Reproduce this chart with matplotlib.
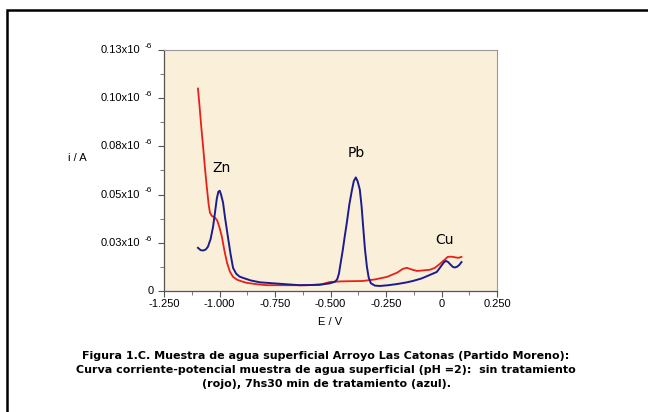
import matplotlib
matplotlib.use("Agg")
import matplotlib.pyplot as plt
from matplotlib.patches import Rectangle
from matplotlib.ticker import MultipleLocator

# data (current in units of 1e-6 A)
red_E = [-1.097, -1.090, -1.082, -1.074, -1.065, -1.056, -1.049, -1.043, -1.035, -1.020,
         -1.010, -1.000, -0.989, -0.978, -0.966, -0.953, -0.939, -0.920, -0.900, -0.876,
         -0.830, -0.786, -0.70, -0.60, -0.540, -0.502, -0.45, -0.354, -0.30, -0.246,
         -0.20, -0.174, -0.156, -0.130, -0.11, -0.080, -0.053, -0.030, -0.008, 0.010,
         0.028, 0.045, 0.06, 0.075, 0.09]
red_i = [0.105, 0.096, 0.085, 0.075, 0.063, 0.0526, 0.045, 0.0406, 0.039, 0.038,
         0.0365, 0.033, 0.028, 0.021, 0.0146, 0.010, 0.0073, 0.0058, 0.005, 0.0042,
         0.0035, 0.003, 0.003, 0.003, 0.0035, 0.0047, 0.005, 0.0052, 0.006, 0.0073,
         0.0095, 0.0115, 0.012, 0.011, 0.0104, 0.0107, 0.011, 0.012, 0.014, 0.0158,
         0.0177, 0.0178, 0.0175, 0.0172, 0.0177]

blue_E = [-1.097, -1.085, -1.074, -1.062, -1.052, -1.040, -1.029, -1.020, -1.012, -1.005,
          -0.999, -0.993, -0.984, -0.975, -0.962, -0.950, -0.939, -0.925, -0.910, -0.894,
          -0.860, -0.818, -0.70, -0.638, -0.55, -0.502, -0.480, -0.470, -0.462, -0.455,
          -0.445, -0.435, -0.427, -0.415, -0.403, -0.395, -0.386, -0.378, -0.368, -0.360,
          -0.354, -0.345, -0.336, -0.328, -0.318, -0.300, -0.278, -0.240, -0.201, -0.160,
          -0.129, -0.090, -0.053, -0.021, 0.002, 0.012, 0.020, 0.030, 0.038, 0.051,
          0.060, 0.069, 0.080, 0.09]
blue_i = [0.0224, 0.0212, 0.021, 0.0215, 0.023, 0.027, 0.0333, 0.041, 0.048, 0.0515,
          0.052, 0.050, 0.0458, 0.038, 0.028, 0.019, 0.012, 0.009, 0.0075, 0.0068,
          0.0055, 0.0045, 0.0035, 0.003, 0.0032, 0.004, 0.0048, 0.006, 0.009, 0.014,
          0.021, 0.029, 0.035, 0.045, 0.0526, 0.057, 0.0589, 0.057, 0.0526, 0.044,
          0.035, 0.022, 0.0125, 0.007, 0.004, 0.0028, 0.0026, 0.003, 0.0036, 0.0044,
          0.0052, 0.0065, 0.0083, 0.0099, 0.0135, 0.0150, 0.0156, 0.0150, 0.014, 0.0125,
          0.0122, 0.0125, 0.0135, 0.015]

y_ticks = [0, 0.025, 0.05, 0.075, 0.10, 0.125]
y_labels = ["0", "0.03x10", "0.05x10", "0.08x10", "0.10x10", "0.13x10"]
x_ticks = [-1.25, -1.0, -0.75, -0.5, -0.25, 0, 0.25]
x_labels = ["-1.250", "-1.000", "-0.750", "-0.500", "-0.250", "0", "0.250"]
peaks = [("Zn", -0.99, 0.064), ("Pb", -0.382, 0.0715), ("Cu", 0.015, 0.0265)]

W, H = 648, 412
fig = plt.figure(figsize=(W / 100, H / 100), dpi=100)
fig.patch.set_facecolor("white")

# outer frame
fig.add_artist(Rectangle((7 / W, -0.1), 1.2, 1 - 10 / H + 0.1, transform=fig.transFigure,
                         fill=False, edgecolor="black", linewidth=1.8))

ax = fig.add_axes([164 / W, 1 - 291 / H, 333 / W, 241 / H])
ax.set_facecolor("#FAEFD9")
ax.plot(red_E, red_i, color="#E8201A", linewidth=1.3)
ax.plot(blue_E, blue_i, color="#1C1C8E", linewidth=1.4)

ax.set_xlim(-1.25, 0.25)
ax.set_ylim(0, 0.125)
ax.set_xticks(x_ticks)
ax.set_xticklabels(x_labels)
ax.set_yticks(y_ticks)
ax.set_yticklabels([])
ax.xaxis.set_minor_locator(MultipleLocator(0.125))
ax.yaxis.set_minor_locator(MultipleLocator(0.0125))
ax.tick_params(axis="both", which="major", length=4, width=0.8, color="#555555",
               labelsize=8, pad=1.5)
ax.tick_params(axis="both", which="minor", length=3, width=0.7, color="#777777")
for lab in ax.get_xticklabels():
    lab.set_fontfamily("Liberation Sans")

for s in ["left", "bottom"]:
    ax.spines[s].set_color("#555555")
    ax.spines[s].set_linewidth(0.9)
for s in ["top", "right"]:
    ax.spines[s].set_color("#999999")
    ax.spines[s].set_linewidth(0.8)

# y tick labels with superscript
for v, lab in zip(y_ticks, y_labels):
    if lab == "0":
        ax.text(-0.03, v, lab, transform=ax.get_yaxis_transform(), ha="right",
                va="center", fontsize=8, family="Liberation Sans")
    else:
        ax.text(-(164 - 140) / 333, v, lab, transform=ax.get_yaxis_transform(),
                ha="right", va="center", fontsize=8, family="Liberation Sans")
        ax.text(-(164 - 145) / 333, v + 0.0019, "-6", transform=ax.get_yaxis_transform(),
                ha="left", va="center", fontsize=6, family="Liberation Sans")

fig.text(68 / W, 1 - 158 / H, "i / A", ha="left", va="center", fontsize=8,
         family="Liberation Sans")
fig.text(330 / W, 1 - 322 / H, "E / V", ha="center", va="center", fontsize=8,
         family="Liberation Sans")

for name, ex, iy in peaks:
    ax.text(ex, iy, name, ha="center", va="center", fontsize=10, family="DejaVu Sans")

caption = ["Figura 1.C. Muestra de agua superficial Arroyo Las Catonas (Partido Moreno):",
           "Curva corriente-potencial muestra de agua superficial (pH =2):  sin tratamiento",
           "(rojo), 7hs30 min de tratamiento (azul)."]
for k, line in enumerate(caption):
    fig.text(0.5 + 2 / W, 1 - (356 + 14 * k) / H, line, ha="center", va="center",
             fontsize=8, family="DejaVu Sans", fontweight="bold")

fig.savefig("out.png", dpi=100)
